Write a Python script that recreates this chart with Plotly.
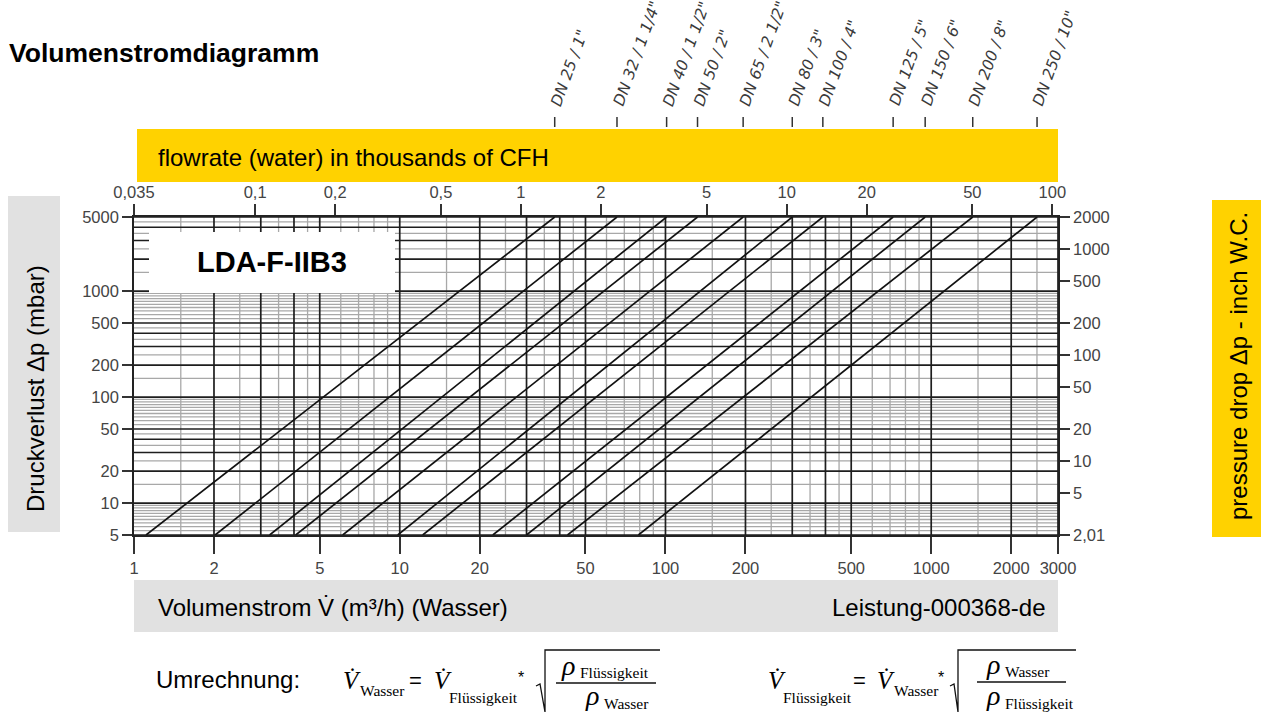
import math
import plotly.graph_objects as go

# ---------------- data ----------------
dn_labels = ['DN 25 / 1"', 'DN 32 / 1 1/4"', 'DN 40 / 1 1/2"', 'DN 50 / 2"',
             'DN 65 / 2 1/2"', 'DN 80 / 3"', 'DN 100 / 4"', 'DN 125 / 5"',
             'DN 150 / 6"', 'DN 200 / 8"', 'DN 250 / 10"']
# flow rate (m3/h, water) where each line crosses 5 mbar and 5000 mbar
flow_at_5mbar = [1.11, 2.02, 3.24, 4.06, 6.1, 9.83, 12.2, 22.4, 30.0, 42.8, 79.1]
flow_at_5000mbar = [38.3, 65.7, 101, 132, 196, 300, 391, 719, 949, 1433, 2502]
dp_low = 5
dp_high = 5000

bottom_ticks = [1, 2, 5, 10, 20, 50, 100, 200, 500, 1000, 2000, 3000]
left_ticks = [5, 10, 20, 50, 100, 200, 500, 1000, 5000]
top_tickvals = [0.035, 0.1, 0.2, 0.5, 1, 2, 5, 10, 20, 50, 100]
top_ticktext = ["0,035", "0,1", "0,2", "0,5", "1", "2", "5", "10", "20", "50", "100"]
right_tickvals = [2.01, 5, 10, 20, 50, 100, 200, 500, 1000, 2000]
right_ticktext = ["2,01", "5", "10", "20", "50", "100", "200", "500", "1000", "2000"]

cfh_per_m3h = 0.035      # thousands of CFH per m3/h
inwc_per_mbar = 0.402    # inch W.C. per mbar

grid_dark = [1, 2, 3, 4, 5]
grid_light_x = [1.5, 2.5, 3.5, 4.5, 6, 7, 8, 9]
grid_light_y = [1.5, 2.5, 3.5, 4.5, 5.5, 6, 6.5, 7, 7.5, 8, 8.5, 9, 9.5]
decades = [1, 10, 100, 1000]

x_min, x_max = 1, 3000
y_min, y_max = dp_low, dp_high

# ---------------- layout helpers ----------------
W, H = 1261, 713
PL, PR, PT, PB = 134, 1058, 217, 535


def px(X):
    return (X - PL) / (PR - PL)


def py(Y):
    return (PB - Y) / (PB - PT)


SANS = "Liberation Sans, Arial, sans-serif"
SERIF = "Liberation Serif, Times New Roman, serif"

fig = go.Figure()


def vlines(mults, lo, hi):
    xs, ys = [], []
    for d in decades:
        for m in mults:
            v = m * d
            if x_min < v <= x_max:
                xs += [v, v, None]
                ys += [lo, hi, None]
    return xs, ys


def hlines(mults, lo, hi):
    xs, ys = [], []
    for d in decades:
        for m in mults:
            v = m * d
            if y_min <= v <= y_max:
                xs += [lo, hi, None]
                ys += [v, v, None]
    return xs, ys


# light grid
gx, gy = hlines(grid_light_y, x_min, x_max)
fig.add_trace(go.Scatter(x=gx, y=gy, mode="lines", line=dict(color="#a8a8a8", width=1.3),
                         hoverinfo="skip", showlegend=False))
gx, gy = vlines(grid_light_x, y_min, y_max)
fig.add_trace(go.Scatter(x=gx, y=gy, mode="lines", line=dict(color="#a8a8a8", width=1.3),
                         hoverinfo="skip", showlegend=False))
# dark grid
gx, gy = hlines(grid_dark, x_min, x_max)
fig.add_trace(go.Scatter(x=gx, y=gy, mode="lines", line=dict(color="#1e1e1e", width=1.7),
                         hoverinfo="skip", showlegend=False))
gx, gy = vlines(grid_dark, y_min, y_max)
fig.add_trace(go.Scatter(x=gx, y=gy, mode="lines", line=dict(color="#1e1e1e", width=1.7),
                         hoverinfo="skip", showlegend=False))

# characteristic lines
for lab, q0, q1 in zip(dn_labels, flow_at_5mbar, flow_at_5000mbar):
    fig.add_trace(go.Scatter(x=[q0, q1], y=[dp_low, dp_high], mode="lines",
                             line=dict(color="#111111", width=1.7),
                             name=lab, hoverinfo="name", showlegend=False))

# helper traces to activate secondary axes
fig.add_trace(go.Scatter(x=top_tickvals, y=[y_min] * len(top_tickvals), xaxis="x2", yaxis="y",
                         mode="markers", marker=dict(opacity=0), hoverinfo="skip", showlegend=False))
fig.add_trace(go.Scatter(x=[x_min] * len(right_tickvals), y=right_tickvals, xaxis="x", yaxis="y2",
                         mode="markers", marker=dict(opacity=0), hoverinfo="skip", showlegend=False))

tickfont = dict(family=SANS, size=16.5, color="#444444")
axcommon = dict(type="log", showgrid=False, zeroline=False, showline=True,
                linecolor="#222222", linewidth=1.6, ticks="outside", tickwidth=1.5,
                tickcolor="#333333", tickfont=tickfont, tickmode="array", fixedrange=True)

fig.update_layout(
    width=W, height=H,
    margin=dict(l=PL, r=W - PR, t=PT, b=H - PB, pad=0),
    paper_bgcolor="white", plot_bgcolor="white",
    xaxis=dict(range=[math.log10(x_min), math.log10(x_max)], tickvals=bottom_ticks,
               ticktext=[str(v) for v in bottom_ticks], ticklen=17, **axcommon),
    yaxis=dict(range=[math.log10(y_min), math.log10(y_max)], tickvals=left_ticks,
               ticktext=[str(v) for v in left_ticks], ticklen=10, **axcommon),
    xaxis2=dict(range=[math.log10(x_min * cfh_per_m3h), math.log10(x_max * cfh_per_m3h)],
                overlaying="x", side="top", anchor="y", tickvals=top_tickvals,
                ticktext=top_ticktext, ticklen=11, **axcommon),
    yaxis2=dict(range=[math.log10(y_min * inwc_per_mbar), math.log10(y_max * inwc_per_mbar)],
                overlaying="y", side="right", anchor="x", tickvals=right_tickvals,
                ticktext=right_ticktext, ticklen=10, **axcommon),
    showlegend=False,
)

shapes = []
annos = []


def rect(x0, y0, x1, y1, color, layer="below"):
    shapes.append(dict(type="rect", xref="paper", yref="paper", x0=px(x0), x1=px(x1),
                       y0=py(y1), y1=py(y0), fillcolor=color, line=dict(width=0), layer=layer))


def seg_path(points, width=1.3, color="#111111"):
    d = "M " + " L ".join(f"{px(a):.5f},{py(b):.5f}" for a, b in points)
    shapes.append(dict(type="path", xref="paper", yref="paper", path=d,
                       line=dict(color=color, width=width), layer="above"))


def text(X, Y, s, size, xanchor="left", family=SANS, color="#000000", angle=0,
         yanchor="middle", style="normal"):
    annos.append(dict(x=px(X), y=py(Y), xref="paper", yref="paper", text=s, showarrow=False,
                      xanchor=xanchor, yanchor=yanchor, textangle=angle,
                      font=dict(family=family, size=size, color=color, style=style)))


YELLOW = "#FFD200"
GRAY = "#E1E1E1"

rect(137, 129, 1058, 182, YELLOW)
rect(134, 580, 1058, 632, GRAY)
rect(8, 196, 60, 532, GRAY)
rect(1212, 200, 1261, 537, YELLOW)
rect(149, 232, 395, 293, "white", layer="above")

text(7, 53, "<b>Volumenstromdiagramm</b>", 26.5)
text(156, 157, "flowrate (water) in thousands of CFH", 24)
text(156, 607, "Volumenstrom V̇ (m³/h) (Wasser)", 24)
text(1048, 607, "Leistung-000368-de", 24, xanchor="right")
text(35, 389, "Druckverlust Δp (mbar)", 24, xanchor="center", angle=-90)
text(1238, 366, "pressure drop Δp - inch W.C.", 24, xanchor="center", angle=-90)
text(272, 262, "<b>LDA-F-IIB3</b>", 29, xanchor="center")

# DN labels and ticks along the top
for lab, q1 in zip(dn_labels, flow_at_5000mbar):
    shapes.append(dict(type="line", xref="x", yref="paper", x0=q1, x1=q1,
                       y0=py(127), y1=py(117), line=dict(color="#333333", width=1.5)))
    annos.append(dict(x=math.log10(q1), y=py(111), xref="x", yref="paper", text=lab,
                      showarrow=False, xanchor="left", yanchor="bottom", textangle=-70,
                      xshift=-10, font=dict(family="DejaVu Sans", size=15.5, color="#3a3a3a",
                                            style="italic")))

# conversion formulas
text(154, 679, "Umrechnung:", 24)
BIG = 25
SUB = 15.5
RHO = 28
# formula 1
text(341, 680, "V̇", BIG, family=SERIF, style="italic")
text(358, 690, "Wasser", SUB, family=SERIF)
text(415, 680, "=", 22, xanchor="center")
text(432, 680, "V̇", BIG, family=SERIF, style="italic")
text(447, 697, "Flüssigkeit", SUB, family=SERIF)
text(521, 677, "*", 16, xanchor="center")
seg_path([(536, 686), (540, 684), (545, 712), (545, 650), (660, 650)])
text(568, 665, "ρ", RHO, xanchor="center", family=SERIF, style="italic")
text(578, 672, "Flüssigkeit", SUB, family=SERIF)
seg_path([(556, 683), (656, 683)])
text(592, 695, "ρ", RHO, xanchor="center", family=SERIF, style="italic")
text(602, 703, "Wasser", SUB, family=SERIF)
# formula 2
text(766, 680, "V̇", BIG, family=SERIF, style="italic")
text(781, 697, "Flüssigkeit", SUB, family=SERIF)
text(859, 680, "=", 22, xanchor="center")
text(875, 680, "V̇", BIG, family=SERIF, style="italic")
text(892, 690, "Wasser", SUB, family=SERIF)
text(941, 677, "*", 16, xanchor="center")
seg_path([(950, 686), (954, 684), (958, 712), (958, 650), (1076, 650)])
text(993, 664, "ρ", RHO, xanchor="center", family=SERIF, style="italic")
text(1003, 671, "Wasser", SUB, family=SERIF)
seg_path([(977, 682), (1066, 682)])
text(993, 695, "ρ", RHO, xanchor="center", family=SERIF, style="italic")
text(1003, 703, "Flüssigkeit", SUB, family=SERIF)

fig.update_layout(shapes=shapes, annotations=annos)
fig.write_html("out.html", config={"displayModeBar": False},
               post_script="document.body.style.margin='0';")
